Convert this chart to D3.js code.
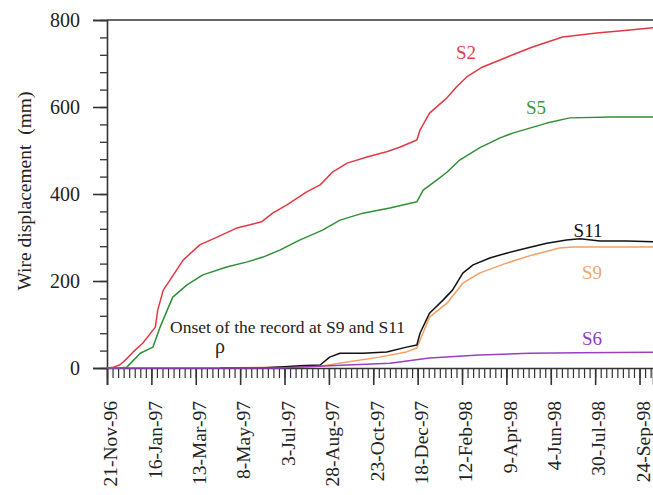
<!DOCTYPE html>
<html><head><meta charset="utf-8">
<script src="https://cdn.jsdelivr.net/npm/d3@7"></script>
<style>
html,body{margin:0;padding:0;background:#fff;}
svg{display:block;}
</style></head>
<body><svg id="c" width="653" height="495"></svg>
<script>
// ---- data ----
const tickLabels = ["21-Nov-96","16-Jan-97","13-Mar-97","8-May-97","3-Jul-97","28-Aug-97","23-Oct-97","18-Dec-97","12-Feb-98","9-Apr-98","4-Jun-98","30-Jul-98","24-Sep-98"];
const yTicks = [0,200,400,600,800];

const s2Dates = ["1996-11-21","1996-11-29","1996-12-07","1996-12-14","1996-12-24","1997-01-05","1997-01-21","1997-01-24","1997-01-31","1997-02-11","1997-02-25","1997-03-18","1997-04-09","1997-05-04","1997-06-04","1997-06-18","1997-07-06","1997-07-31","1997-08-17","1997-09-02","1997-09-20","1997-10-15","1997-11-09","1997-11-26","1997-12-17","1997-12-21","1998-01-02","1998-01-24","1998-02-05","1998-02-18","1998-03-10","1998-04-01","1998-04-17","1998-05-12","1998-06-19","1998-08-01","1998-09-12","1998-10-11"];
const s2Values = [0,2,7,18,37,57,94,133,179,209,248,283,301,322,336,356,375,405,421,451,471,485,497,508,524,547,586,621,646,669,692,708,720,738,761,770,777,782];

const s5Dates = ["1996-11-21","1996-12-05","1996-12-16","1997-01-02","1997-01-18","1997-01-27","1997-02-05","1997-02-12","1997-03-02","1997-03-22","1997-04-21","1997-05-17","1997-06-06","1997-06-27","1997-07-22","1997-08-20","1997-09-11","1997-10-10","1997-11-13","1997-12-17","1997-12-25","1998-01-11","1998-01-24","1998-02-09","1998-03-06","1998-04-01","1998-04-17","1998-05-30","1998-06-28","1998-08-21","1998-10-11"];
const s5Values = [0,0,2,34,48,94,133,163,191,214,232,244,255,271,294,317,340,356,368,382,409,432,450,478,506,529,540,563,575,577,577];

const s11Dates = ["1997-04-13","1997-06-02","1997-07-03","1997-07-22","1997-08-17","1997-08-29","1997-09-11","1997-10-10","1997-11-09","1997-12-04","1997-12-17","1997-12-21","1998-01-02","1998-01-19","1998-01-31","1998-02-13","1998-02-26","1998-03-19","1998-04-09","1998-05-05","1998-05-30","1998-06-24","1998-07-11","1998-08-05","1998-09-08","1998-10-11"];
const s11Values = [0,0,3,5,7,25,34,34,37,48,53,80,126,156,179,218,237,253,264,276,287,294,297,292,292,290];

const s9Dates = ["1997-04-13","1997-07-03","1997-08-17","1997-09-20","1997-10-31","1997-12-04","1997-12-17","1997-12-21","1998-01-02","1998-01-24","1998-02-13","1998-03-06","1998-04-09","1998-05-12","1998-06-15","1998-07-02","1998-10-11"];
const s9Values = [0,2,4,14,25,37,46,64,117,149,195,218,241,260,276,278,278];

const s6Dates = ["1996-11-21","1997-06-27","1997-08-29","1997-11-13","1998-01-02","1998-03-06","1998-05-08","1998-07-11","1998-10-11"];
const s6Values = [0,0,5,11,23,30,34,35,36];

const seriesNames = ["S2","S5","S9","S11","S6"];
const seriesColors = ["#e23844","#2f8f35","#f2a063","#111111","#9a3fc0"];

// ---- chart ----
const FONT = "Liberation Serif";
const parse = d3.timeParse("%Y-%m-%d");
const svg = d3.select("#c");
const x0 = 107, x1 = 653, yTop = 20, yBot = 368;
const x = d3.scaleTime().domain([parse("1996-11-21"), parse("1998-10-11")]).range([x0, x1]);
const y = d3.scaleLinear().domain([0, 800]).range([yBot, yTop]);

const mk = (ds, vs) => ds.map((d, i) => ({d: parse(d), v: vs[i]}));
const series = [mk(s2Dates, s2Values), mk(s5Dates, s5Values), mk(s9Dates, s9Values), mk(s11Dates, s11Values), mk(s6Dates, s6Values)];

const start = parse("1996-11-21");
const majorDates = tickLabels.map((_, i) => d3.timeDay.offset(start, i * 56));
const minorDates = d3.range(0, 105).map(i => d3.timeDay.offset(start, i * 7));

const axisCol = "#333";
svg.append("g").attr("transform", `translate(0,${yBot})`)
  .call(d3.axisBottom(x).tickValues(minorDates).tickSize(10).tickFormat(""))
  .call(g => { g.select(".domain").remove(); g.selectAll("line").attr("stroke", axisCol).attr("stroke-width", 1.2); });
const gx = svg.append("g").attr("transform", `translate(0,${yBot})`)
  .call(d3.axisBottom(x).tickValues(majorDates).tickSize(17).tickFormat((d, i) => tickLabels[i]))
  .call(g => { g.select(".domain").attr("stroke", axisCol).attr("stroke-width", 1.6); g.selectAll("line").attr("stroke", axisCol).attr("stroke-width", 1.6); });
gx.attr("font-family", FONT).attr("font-size", 19.5);
gx.selectAll("text")
  .attr("font-family", FONT).attr("font-size", 19.5).attr("fill", "#222")
  .attr("text-anchor", "end")
  .attr("transform", "translate(3,33) rotate(-90)")
  .attr("x", 0).attr("y", 0).attr("dy", "0.35em");

svg.append("g").attr("transform", `translate(${x0},0)`)
  .call(d3.axisLeft(y).tickValues(d3.range(0, 801, 40)).tickSize(7).tickFormat(""))
  .call(g => { g.select(".domain").remove(); g.selectAll("line").attr("stroke", axisCol).attr("stroke-width", 1.3); });
svg.append("g").attr("transform", `translate(${x0},0)`)
  .call(d3.axisLeft(y).tickValues(yTicks).tickSize(14).tickPadding(13))
  .call(g => { g.attr("font-family", FONT).attr("font-size", 20); g.select(".domain").attr("stroke", axisCol).attr("stroke-width", 1.6); g.selectAll("line").attr("stroke", axisCol).attr("stroke-width", 1.6);
    g.selectAll("text").attr("font-family", FONT).attr("font-size", 20).attr("fill", "#222"); });

svg.append("line").attr("x1", x0).attr("x2", x1).attr("y1", y(800)).attr("y2", y(800))
  .attr("stroke", axisCol).attr("stroke-width", 1.6);

const line = d3.line().x(p => x(p.d)).y(p => y(p.v));
svg.append("g").selectAll("path").data(series).join("path")
  .attr("d", line).attr("fill", "none")
  .attr("stroke", (d, i) => seriesColors[i]).attr("stroke-width", 1.5)
  .attr("stroke-linejoin", "round");

const labelPos = [[466, 52], [536, 107], [592, 272], [588, 230], [592, 338]];
const labelCols = ["#e0404c", "#3a9a3a", "#f0a870", "#111", "#9040b8"];
svg.append("g").selectAll("text").data(seriesNames).join("text")
  .attr("x", (d, i) => labelPos[i][0]).attr("y", (d, i) => labelPos[i][1])
  .attr("dy", "0.35em").attr("text-anchor", "middle")
  .attr("font-family", FONT).attr("font-size", 19)
  .attr("fill", (d, i) => labelCols[i]).text(d => d);

svg.append("text").attr("x", 170).attr("y", 333)
  .attr("font-family", FONT).attr("font-size", 17.5)
  .attr("fill", "#222").text("Onset of the record at S9 and S11");
svg.append("text").attr("x", 220).attr("y", 353).attr("text-anchor", "middle")
  .attr("font-family", FONT).attr("font-size", 20)
  .attr("fill", "#222").text("ρ");

svg.append("text").attr("transform", "translate(24,191) rotate(-90)")
  .attr("text-anchor", "middle").attr("dy", "0.35em")
  .attr("font-family", FONT).attr("font-size", 19.5).attr("fill", "#222")
  .attr("xml:space", "preserve").style("white-space", "pre").text("Wire displacement  (mm)");
</script>
</body></html>
